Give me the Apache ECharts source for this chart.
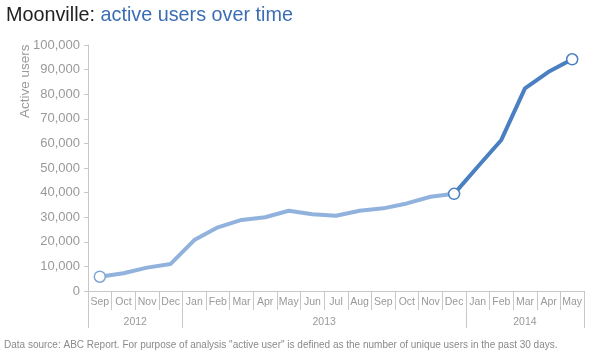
<!DOCTYPE html>
<html>
<head>
<meta charset="utf-8">
<script src="https://cdn.jsdelivr.net/npm/echarts@6/dist/echarts.min.js"></script>
<style>html,body{margin:0;padding:0;background:#fff}#c{width:602px;height:356px}</style>
</head>
<body>
<div id="c"></div>
<script>
const months = ['Sep','Oct','Nov','Dec','Jan','Feb','Mar','Apr','May','Jun','Jul','Aug','Sep','Oct','Nov','Dec','Jan','Feb','Mar','Apr','May'];
const years = ['2012','2013','2014'];
const yearStartIndex = [0, 4, 16, 21];
const historyValues = [5800,7200,9500,11000,20700,25900,28900,30000,32600,31200,30600,32600,33600,35600,38300,39500];
const recentValues = [39500,50500,61400,82400,89100,94200];
const yTicks = [0,10000,20000,30000,40000,50000,60000,70000,80000,90000,100000];

const seriesA = months.map((m,i)=> i < historyValues.length ? historyValues[i] : null);
const seriesB = months.map((m,i)=> i >= 15 ? recentValues[i-15] : null);
const yearCenters = years.map((y,i)=> (yearStartIndex[i]+yearStartIndex[i+1])/2);

const chart = echarts.init(document.getElementById('c'), null, {renderer:'canvas'});
const font = 'Arial, "Liberation Sans", Helvetica, sans-serif';
chart.setOption({
  animation:false,
  textStyle:{fontFamily:font},
  title:{
    left:1, top:1,
    text:'{a|Moonville: }{b|active users over time}',
    textStyle:{fontWeight:'normal',rich:{
      a:{fontSize:19.8,color:'#222',fontFamily:font,fontWeight:'normal'},
      b:{fontSize:19.8,color:'#3c6db4',fontFamily:font,fontWeight:'normal'}
    }}
  },
  graphic:[
    {type:'text', left:4, top:340, style:{text:'Data source: ABC Report. For purpose of analysis "active user" is defined as the number of unique users in the past 30 days.', fontSize:10, fill:'#8a8a8a', fontFamily:font}},
    {type:'text', x:18, y:118, rotation:Math.PI/2, style:{text:'Active users', fontSize:13.5, fill:'#9a9a9a', fontFamily:font, textAlign:'left', textVerticalAlign:'top'}}
  ],
  grid:{left:88, right:18, top:45, bottom:65},
  xAxis:[
    {type:'category', data:months, boundaryGap:true,
     axisLine:{lineStyle:{color:'#c8c8c8',width:1}},
     axisTick:{show:true,interval:0,length:19,lineStyle:{color:'#c8c8c8',width:1}},
     axisLabel:{interval:0,color:'#999999',fontSize:10.5,margin:6}
    },
    {type:'value', position:'bottom', min:0, max:months.length,
     axisLine:{show:false},
     splitLine:{show:false},
     axisTick:{show:true,length:37,customValues:yearStartIndex,lineStyle:{color:'#c8c8c8'}},
     axisLabel:{show:true,customValues:yearCenters,color:'#999999',fontSize:10.5,margin:26,
       formatter:function(v){const i=yearCenters.indexOf(v);return i>=0?years[i]:'';}}
    }
  ],
  yAxis:{type:'value', min:0, max:100000, interval:10000,
    axisLine:{show:true,lineStyle:{color:'#c8c8c8'}},
    axisTick:{show:true,length:4,lineStyle:{color:'#c8c8c8'}},
    splitLine:{show:false},
    axisLabel:{color:'#999999',fontSize:13,margin:8,
      formatter:function(v){return v.toLocaleString('en-US');}}
  },
  series:[
    {type:'line', data:seriesA, xAxisIndex:0, lineStyle:{color:'#91b2dc',width:4},
     symbol:'circle', showAllSymbol:true,
     symbolSize:function(v,p){return (p.dataIndex===0)?11:0;},
     itemStyle:{color:'#ffffff',borderColor:'#7fa4d6',borderWidth:1.5}, z:2},
    {type:'line', data:seriesB, xAxisIndex:0, lineStyle:{color:'#4a7fc1',width:4},
     symbol:'circle', showAllSymbol:true,
     symbolSize:function(v,p){return (p.dataIndex===15||p.dataIndex===20)?11:0;},
     itemStyle:{color:'#ffffff',borderColor:'#4a7fc1',borderWidth:1.5}, z:3}
  ]
});
</script>
</body>
</html>
